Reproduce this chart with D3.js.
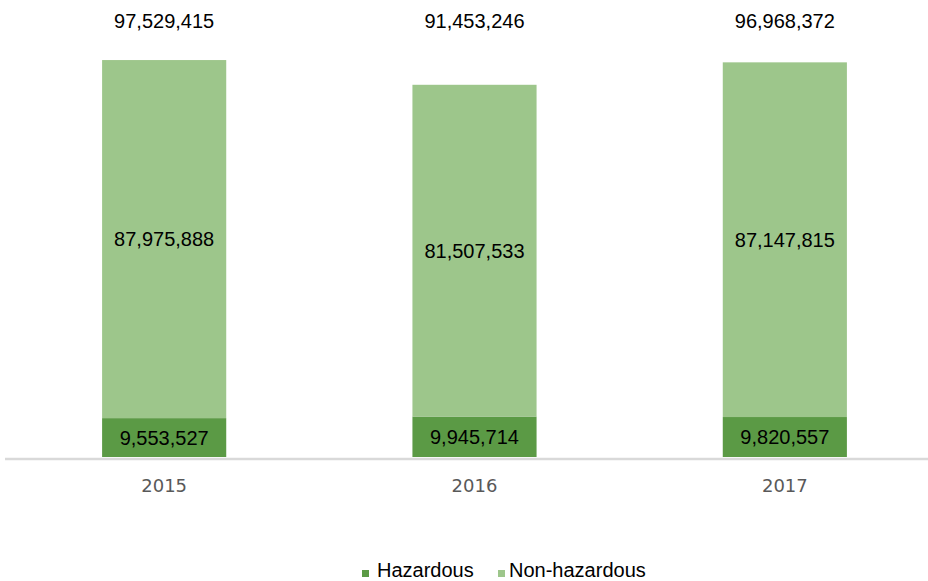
<!DOCTYPE html>
<html>
<head>
<meta charset="utf-8">
<script src="https://cdn.jsdelivr.net/npm/d3@7"></script>
<style>
  html, body { margin: 0; padding: 0; background: #fff; }
  svg { display: block; }
</style>
</head>
<body>
<svg id="chart" width="928" height="581"></svg>
<script>
// Waste generated per year, split into hazardous and non-hazardous
const years = ["2015", "2016", "2017"];
const hazardous = [9553527, 9945714, 9820557];
const nonHazardous = [87975888, 81507533, 87147815];
const totals = [97529415, 91453246, 96968372];
const seriesNames = ["Hazardous", "Non-hazardous"];
const seriesColors = ["#5b9a45", "#9dc68b"];

const svg = d3.select("#chart");
const fmt = d3.format(",");

const x = d3.scaleBand()
  .domain(years)
  .range([9, 940])
  .paddingInner(0.6)
  .paddingOuter(0.3);

const y = d3.scaleLinear()
  .domain([0, 100e6])
  .range([457, 50]);

const rows = years.map((yr, i) => ({ year: yr, Hazardous: hazardous[i], "Non-hazardous": nonHazardous[i], total: totals[i] }));
const stacked = d3.stack().keys(seriesNames)(rows);

// Stacked bars
stacked.forEach((layer, li) => {
  svg.append("g")
    .attr("fill", seriesColors[li])
    .selectAll("rect")
    .data(layer)
    .join("rect")
    .attr("x", d => x(d.data.year))
    .attr("width", x.bandwidth())
    .attr("y", d => y(d[1]))
    .attr("height", d => y(d[0]) - y(d[1]));
});

// Baseline axis
const axis = svg.append("g")
  .attr("transform", "translate(0,459)")
  .call(d3.axisBottom(x).tickSize(0).tickPadding(20));
axis.select(".domain").remove();
axis.append("line")
  .attr("x1", 5).attr("x2", 928)
  .attr("stroke", "#d9d9d9").attr("stroke-width", 2.5);
axis.selectAll(".tick text")
  .attr("font-family", "'DejaVu Sans', sans-serif")
  .attr("font-size", 18)
  .attr("fill", "#595959");

const labelFont = "'Liberation Sans', Arial, sans-serif";

// Segment value labels
stacked.forEach(layer => {
  svg.append("g")
    .selectAll("text")
    .data(layer)
    .join("text")
    .attr("x", d => x(d.data.year) + x.bandwidth() / 2)
    .attr("y", d => (y(d[0]) + y(d[1])) / 2)
    .attr("dy", "0.36em")
    .attr("text-anchor", "middle")
    .attr("font-family", labelFont)
    .attr("font-size", 20)
    .attr("fill", "#000")
    .text(d => fmt(d[1] - d[0]));
});

// Totals above the bars
svg.append("g")
  .selectAll("text")
  .data(rows)
  .join("text")
  .attr("x", d => x(d.year) + x.bandwidth() / 2)
  .attr("y", 28)
  .attr("text-anchor", "middle")
  .attr("font-family", labelFont)
  .attr("font-size", 20)
  .attr("fill", "#000")
  .text(d => fmt(d.total));

// Legend
const legendPos = [362, 498];
const legend = svg.append("g");
seriesNames.forEach((name, i) => {
  legend.append("rect")
    .attr("x", legendPos[i]).attr("y", 570)
    .attr("width", 7).attr("height", 7)
    .attr("fill", seriesColors[i]);
  legend.append("text")
    .attr("x", legendPos[i] + (i === 0 ? 15 : 11)).attr("y", 577)
    .attr("font-family", labelFont)
    .attr("font-size", 20)
    .attr("fill", "#000")
    .text(name);
});
</script>
</body>
</html>
